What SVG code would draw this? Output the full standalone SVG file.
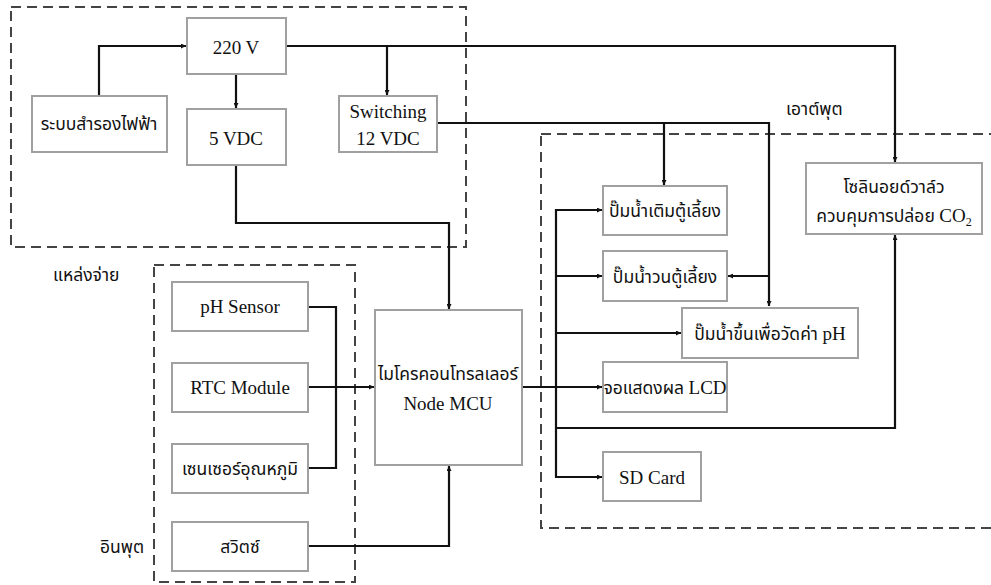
<svg xmlns="http://www.w3.org/2000/svg" width="991" height="585" viewBox="0 0 991 585">
<style>
.grp{fill:none;stroke:#444;stroke-width:2;stroke-dasharray:10 6}
.box{fill:#fff;stroke:#a0a0a0;stroke-width:2}
.ln{fill:none;stroke:#111;stroke-width:2.2}
text{font-family:"Liberation Serif","Noto Sans Thai","Noto Sans",serif;font-size:19px;fill:#111;text-anchor:middle}
.th{font-family:"Noto Sans Thai","Liberation Serif","Noto Sans",sans-serif;font-size:17.5px}
.lbl{text-anchor:start}
</style>
<defs>
<marker id="ah" viewBox="0 0 10 10" refX="10" refY="5" markerWidth="5" markerHeight="5" orient="auto" markerUnits="userSpaceOnUse">
<path d="M0,0 L10,5 L0,10 z" fill="#111"/>
</marker>
</defs>
<g id="groups">
<rect class="grp" x="11" y="7" width="455" height="240"/>
<rect class="grp" x="154" y="265" width="201" height="317"/>
<rect class="grp" x="541" y="134" width="460" height="394"/>
<text class="th lbl" x="53" y="281">แหล่งจ่าย</text>
<text class="th lbl" x="100" y="553">อินพุต</text>
<text class="th lbl" x="786" y="115">เอาต์พุต</text>
</g>
<g id="connectors">
<path class="ln" d="M99,96 V46 H186" marker-end="url(#ah)"/>
<path class="ln" d="M236,74 V108" marker-end="url(#ah)"/>
<path class="ln" d="M286,46 H895 V162" marker-end="url(#ah)"/>
<path class="ln" d="M387,46 V95" marker-end="url(#ah)"/>
<path class="ln" d="M437,123 H769 V306" marker-end="url(#ah)"/>
<path class="ln" d="M664,123 V185" marker-end="url(#ah)"/>
<path class="ln" d="M769,276 H728" marker-end="url(#ah)"/>
<path class="ln" d="M236,165 V223 H449 V309" marker-end="url(#ah)"/>
<path class="ln" d="M308,307 H336 V468 H308"/>
<path class="ln" d="M308,387 H374" marker-end="url(#ah)"/>
<path class="ln" d="M308,546 H449 V466" marker-end="url(#ah)"/>
<path class="ln" d="M522,387 H602" marker-end="url(#ah)"/>
<path class="ln" d="M602,210 H556 V477 H602" marker-end="url(#ah)"/>
<path class="ln" d="M556,210 H602" marker-end="url(#ah)"/>
<path class="ln" d="M556,276 H602" marker-end="url(#ah)"/>
<path class="ln" d="M556,333 H681" marker-end="url(#ah)"/>
<path class="ln" d="M556,428 H895 V235" marker-end="url(#ah)"/>
</g>
<g id="n220"><rect class="box" x="187" y="18" width="99" height="56"/><text x="236" y="54">220 V</text></g>
<g id="backup"><rect class="box" x="32" y="96" width="135" height="56"/><text class="th" x="99" y="130">ระบบสำรองไฟฟ้า</text></g>
<g id="vdc5"><rect class="box" x="187" y="109" width="99" height="56"/><text x="236" y="145">5 VDC</text></g>
<g id="switching"><rect class="box" x="339" y="96" width="98" height="56"/><text x="388" y="118">Switching</text><text x="388" y="145">12 VDC</text></g>
<g id="mcu"><rect class="box" x="375" y="310" width="147" height="155"/><text class="th" x="448" y="380">ไมโครคอนโทรลเลอร์</text><text x="448" y="410">Node MCU</text></g>
<g id="ph"><rect class="box" x="172" y="282" width="136" height="49"/><text x="240" y="313">pH Sensor</text></g>
<g id="rtc"><rect class="box" x="172" y="363" width="136" height="49"/><text x="240" y="394">RTC Module</text></g>
<g id="temp"><rect class="box" x="172" y="444" width="136" height="49"/><text class="th" x="240" y="475">เซนเซอร์อุณหภูมิ</text></g>
<g id="switch"><rect class="box" x="172" y="522" width="136" height="49"/><text class="th" x="240" y="553">สวิตซ์</text></g>
<g id="pump1"><rect class="box" x="603" y="186" width="124" height="49"/><text class="th" x="665" y="217">ปั๊มน้ำเติมตู้เลี้ยง</text></g>
<g id="pump2"><rect class="box" x="603" y="251" width="124" height="50"/><text class="th" x="665" y="283">ปั๊มน้ำวนตู้เลี้ยง</text></g>
<g id="pump3"><rect class="box" x="682" y="308" width="176" height="50"/><text class="th" x="770" y="340">ปั๊มน้ำขึ้นเพื่อวัดค่า <tspan font-family="Liberation Serif" font-size="19">pH</tspan></text></g>
<g id="lcd"><rect class="box" x="603" y="362" width="124" height="50"/><text class="th" x="665" y="394">จอแสดงผล <tspan font-family="Liberation Serif" font-size="19">LCD</tspan></text></g>
<g id="sd"><rect class="box" x="603" y="452" width="98" height="49"/><text x="652" y="484">SD Card</text></g>
<g id="solenoid"><rect class="box" x="806" y="163" width="176" height="71"/><text class="th" x="894" y="193">โซลินอยด์วาล์ว</text><text class="th" x="894" y="222">ควบคุมการปล่อย <tspan font-family="Liberation Serif" font-size="19">CO</tspan><tspan font-family="Liberation Serif" font-size="12" dy="4">2</tspan></text></g>
</svg>
